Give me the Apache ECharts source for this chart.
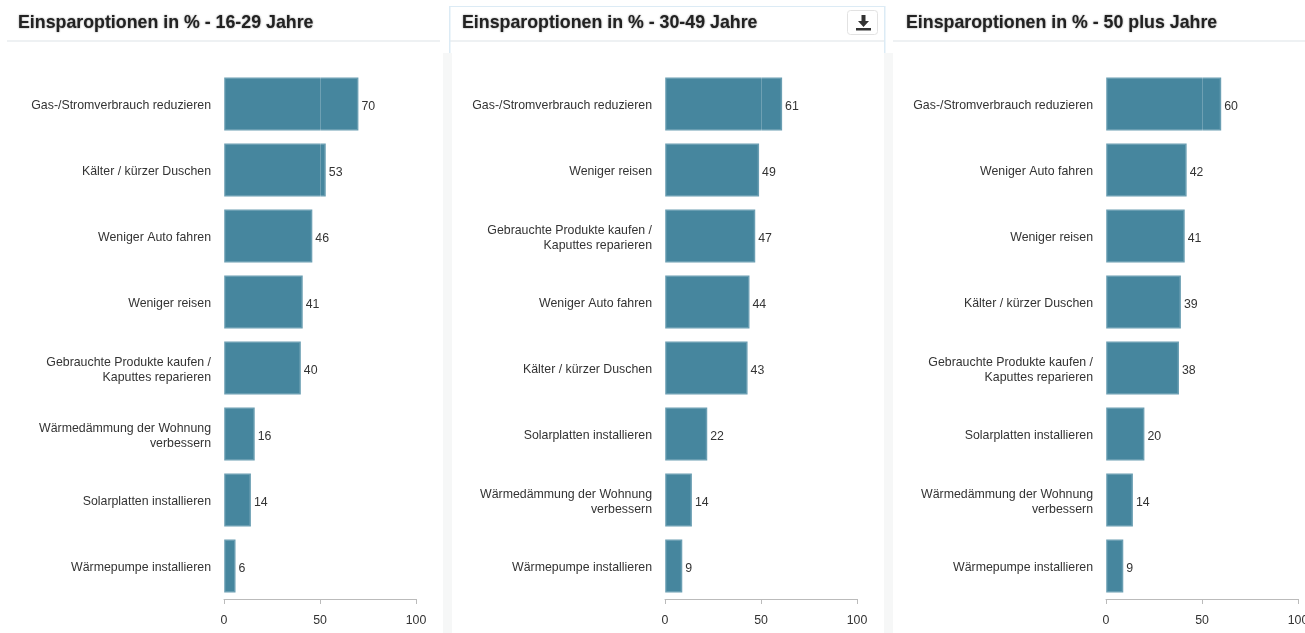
<!DOCTYPE html>
<html>
<head>
<meta charset="utf-8">
<title>Einsparoptionen</title>
<script src="https://cdn.jsdelivr.net/npm/echarts@6/dist/echarts.min.js"></script>
<style>
  html, body { margin: 0; padding: 0; background: #fff; overflow: hidden; }
  #chart { width: 1305px; height: 633px; }
</style>
</head>
<body>
<div id="chart"></div>
<script>
const TITLE_1 = 'Einsparoptionen in % - 16-29 Jahre';
const TITLE_2 = 'Einsparoptionen in % - 30-49 Jahre';
const TITLE_3 = 'Einsparoptionen in % - 50 plus Jahre';

const GEBRAUCHT = 'Gebrauchte Produkte kaufen /\nKaputtes reparieren';
const DAEMMUNG = 'Wärmedämmung der Wohnung\nverbessern';

const categories1 = ['Gas-/Stromverbrauch reduzieren', 'Kälter / kürzer Duschen', 'Weniger Auto fahren', 'Weniger reisen', GEBRAUCHT, DAEMMUNG, 'Solarplatten installieren', 'Wärmepumpe installieren'];
const values1 = [70, 53, 46, 41, 40, 16, 14, 6];

const categories2 = ['Gas-/Stromverbrauch reduzieren', 'Weniger reisen', GEBRAUCHT, 'Weniger Auto fahren', 'Kälter / kürzer Duschen', 'Solarplatten installieren', DAEMMUNG, 'Wärmepumpe installieren'];
const values2 = [61, 49, 47, 44, 43, 22, 14, 9];

const categories3 = ['Gas-/Stromverbrauch reduzieren', 'Weniger Auto fahren', 'Weniger reisen', 'Kälter / kürzer Duschen', GEBRAUCHT, 'Solarplatten installieren', DAEMMUNG, 'Wärmepumpe installieren'];
const values3 = [60, 42, 41, 39, 38, 20, 14, 9];

const TEXT = '#333';
const BAR = '#46869e';
const LABEL_SIZE = 12.35;

const panels = [
  { title: TITLE_1, titleLeft: 18, gridLeft: 224, cats: categories1, vals: values1 },
  { title: TITLE_2, titleLeft: 462, gridLeft: 665, cats: categories2, vals: values2 },
  { title: TITLE_3, titleLeft: 906, gridLeft: 1106, cats: categories3, vals: values3 },
];

const rect = (x, y, width, height, fill) => ({
  type: 'rect', silent: true, z: -10,
  shape: { x, y, width, height },
  style: { fill },
});

// panel chrome: header strips, grey gutters, the hovered middle panel, download button
const chrome = [
  rect(7, 40, 433, 2, '#eef1f3'),
  rect(449, 40, 435, 2, '#eef1f3'),
  rect(893, 40, 412, 2, '#eef1f3'),
  rect(443, 53, 9, 580, '#f6f7f7'),
  rect(884, 53, 9, 580, '#f6f7f7'),
  rect(449, 6, 436, 1, '#dcebf5'),
  rect(449, 6, 1.5, 47, '#dcebf5'),
  rect(884, 6, 1.5, 47, '#dcebf5'),
  {
    type: 'rect', silent: true, z: 5,
    shape: { x: 847.5, y: 10.5, width: 30, height: 24, r: 3 },
    style: { fill: '#fff', stroke: '#e2e2e2', lineWidth: 1 },
  },
  {
    type: 'polygon', silent: true, z: 6,
    shape: { points: [[861.5, 15], [865.5, 15], [865.5, 21], [869, 21], [863.5, 27], [858, 21], [861.5, 21]] },
    style: { fill: '#333' },
  },
  {
    type: 'rect', silent: true, z: 6,
    shape: { x: 856, y: 28, width: 15, height: 2.5 },
    style: { fill: '#333' },
  },
];

const chart = echarts.init(document.getElementById('chart'), null, { renderer: 'canvas' });

chart.setOption({
  animation: false,
  textStyle: { fontFamily: '"Liberation Sans", Arial, sans-serif' },
  title: panels.map((p) => ({
    text: p.title,
    left: p.titleLeft,
    top: 14,
    padding: 0,
    textStyle: {
      fontFamily: '"Liberation Sans", Arial, sans-serif',
      fontSize: 17.8,
      fontWeight: 'bold',
      color: '#222',
      textShadowColor: 'rgba(0,0,0,0.45)',
      textShadowBlur: 2,
    },
  })),
  grid: panels.map((p) => ({
    left: p.gridLeft, top: 71, width: 192, height: 528, outerBoundsMode: 'none',
  })),
  xAxis: panels.map((p, i) => ({
    type: 'value',
    gridIndex: i,
    min: 0,
    max: 100,
    interval: 50,
    z: 3,
    axisLine: { show: true, lineStyle: { color: '#bbb', width: 1 } },
    axisTick: { show: true, length: 5, lineStyle: { color: '#bbb', width: 1 } },
    axisLabel: { color: TEXT, fontSize: LABEL_SIZE, margin: 16 },
    splitLine: { show: true, lineStyle: { color: 'rgba(255,255,255,0.22)', width: 1 } },
  })),
  yAxis: panels.map((p, i) => ({
    type: 'category',
    gridIndex: i,
    inverse: true,
    data: p.cats,
    axisLine: { show: false },
    axisTick: { show: false },
    axisLabel: {
      margin: 13,
      align: 'right',
      padding: [4, 0, 0, 0], // only rich text honours this, nudges labels 2px down
      formatter: (v) => v.split('\n').map((s) => `{a|${s}}`).join('\n'),
      rich: { a: { color: TEXT, fontSize: LABEL_SIZE, lineHeight: 15, align: 'right' } },
    },
  })),
  series: panels.map((p, i) => ({
    type: 'bar',
    xAxisIndex: i,
    yAxisIndex: i,
    data: p.vals,
    barWidth: 53,
    itemStyle: { color: BAR, borderColor: '#6a9eb2', borderWidth: 1.5 },
    label: { show: true, position: 'right', distance: 3, color: TEXT, fontSize: LABEL_SIZE, offset: [0, 3] },
  })),
  graphic: chrome,
});
</script>
</body>
</html>
